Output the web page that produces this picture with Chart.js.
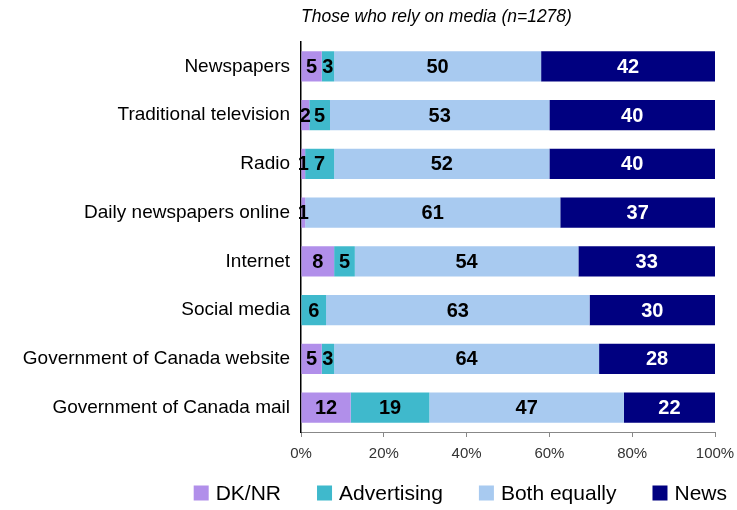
<!DOCTYPE html>
<html>
<head>
<meta charset="utf-8">
<script src="https://cdn.jsdelivr.net/npm/chart.js@4/dist/chart.umd.min.js"></script>
<style>
  html, body { margin: 0; padding: 0; background: #fff; }
  #wrap { width: 737px; height: 510px; }
</style>
</head>
<body>
<div id="wrap"><canvas id="media-chart"></canvas></div>
<script>
const categories = [
    'Newspapers',
    'Traditional television',
    'Radio',
    'Daily newspapers online',
    'Internet',
    'Social media',
    'Government of Canada website',
    'Government of Canada mail'
];
const dkNr = [5, 2, 1, 1, 8, 0, 5, 12];
const advertising = [3, 5, 7, 0, 5, 6, 3, 19];
const bothEqually = [50, 53, 52, 61, 54, 63, 64, 47];
const news = [42, 40, 40, 37, 33, 30, 28, 22];
const xTicks = [0, 20, 40, 60, 80, 100];

const FONT = '"Liberation Sans", Arial, sans-serif';

// rounded percentages don't always add to 100, so each row is scaled to fill the bar
const rowTotals = categories.map((_, i) => dkNr[i] + advertising[i] + bothEqually[i] + news[i]);
const share = (arr) => arr.map((v, i) => v / rowTotals[i] * 100);

// prints each segment's value in the middle of its bar
const segmentLabels = {
    id: 'segmentLabels',
    afterDatasetsDraw(chart) {
        const ctx = chart.ctx;
        ctx.save();
        ctx.font = 'bold 20px ' + FONT;
        ctx.textAlign = 'center';
        ctx.textBaseline = 'middle';
        chart.data.datasets.forEach((ds, i) => {
            const meta = chart.getDatasetMeta(i);
            meta.data.forEach((bar, j) => {
                const v = ds.values[j];
                if (!v) return;
                const p = bar.getCenterPoint();
                ctx.fillStyle = ds.labelColor;
                ctx.fillText(String(v), p.x, p.y + 1);
            });
        });
        ctx.restore();
    }
};

// legend row under the axis, right aligned
const bottomLegend = {
    id: 'bottomLegend',
    afterDraw(chart) {
        const ctx = chart.ctx;
        const box = 15, gap = 7, spacing = 36, right = 727, y = 493;
        ctx.save();
        ctx.font = '21px ' + FONT;
        ctx.textBaseline = 'middle';
        ctx.textAlign = 'left';
        const items = chart.data.datasets.map(ds => ({
            text: ds.label,
            color: ds.backgroundColor,
            w: ctx.measureText(ds.label).width
        }));
        let total = items.reduce((s, it) => s + box + gap + it.w, 0) + spacing * (items.length - 1);
        let x = right - total;
        items.forEach(it => {
            ctx.fillStyle = it.color;
            ctx.fillRect(x, y - box / 2, box, box);
            ctx.fillStyle = '#000';
            ctx.fillText(it.text, x + box + gap, y + 1);
            x += box + gap + it.w + spacing;
        });
        ctx.restore();
    }
};

new Chart(document.getElementById('media-chart'), {
    type: 'bar',
    data: {
        labels: categories,
        datasets: [
            { label: 'DK/NR', values: dkNr, data: share(dkNr), backgroundColor: '#b18fea', labelColor: '#000' },
            { label: 'Advertising', values: advertising, data: share(advertising), backgroundColor: '#3fb9cc', labelColor: '#000' },
            { label: 'Both equally', values: bothEqually, data: share(bothEqually), backgroundColor: '#a8caf0', labelColor: '#000' },
            { label: 'News', values: news, data: share(news), backgroundColor: '#000080', labelColor: '#fff' }
        ]
    },
    plugins: [segmentLabels, bottomLegend],
    options: {
        indexAxis: 'y',
        responsive: true,
        maintainAspectRatio: false,
        animation: false,
        layout: {
            padding: { top: 0, right: 22, bottom: 0, left: 0 }
        },
        datasets: {
            bar: {
                barPercentage: 0.62,
                categoryPercentage: 1
            }
        },
        plugins: {
            tooltip: { enabled: false },
            legend: { display: false },
            title: {
                display: true,
                text: 'Those who rely on media (n=1278)',
                align: 'start',
                fullSize: false,
                color: '#000',
                font: { family: FONT, size: 17.5, style: 'italic', weight: 'normal' },
                padding: { top: 7, bottom: 14 }
            }
        },
        scales: {
            x: {
                stacked: true,
                min: 0,
                max: 100,
                afterBuildTicks: (axis) => {
                    axis.ticks = xTicks.map(v => ({ value: v }));
                },
                afterFit: (axis) => {
                    axis.height = 78;
                    axis.paddingLeft = 0;
                    axis.paddingRight = 0;
                },
                grid: {
                    drawOnChartArea: false,
                    drawTicks: true,
                    tickLength: 5,
                    color: '#888'
                },
                border: { color: '#888' },
                ticks: {
                    color: '#333',
                    padding: 8,
                    font: { family: FONT, size: 15 },
                    maxRotation: 0,
                    callback: (v) => v + '%'
                }
            },
            y: {
                stacked: true,
                afterFit: (axis) => {
                    axis.width = 301;
                },
                grid: { display: false },
                border: { color: '#000', width: 1.5 },
                ticks: {
                    color: '#000',
                    padding: 3,
                    font: { family: FONT, size: 19 }
                }
            }
        }
    }
});
</script>
</body>
</html>
